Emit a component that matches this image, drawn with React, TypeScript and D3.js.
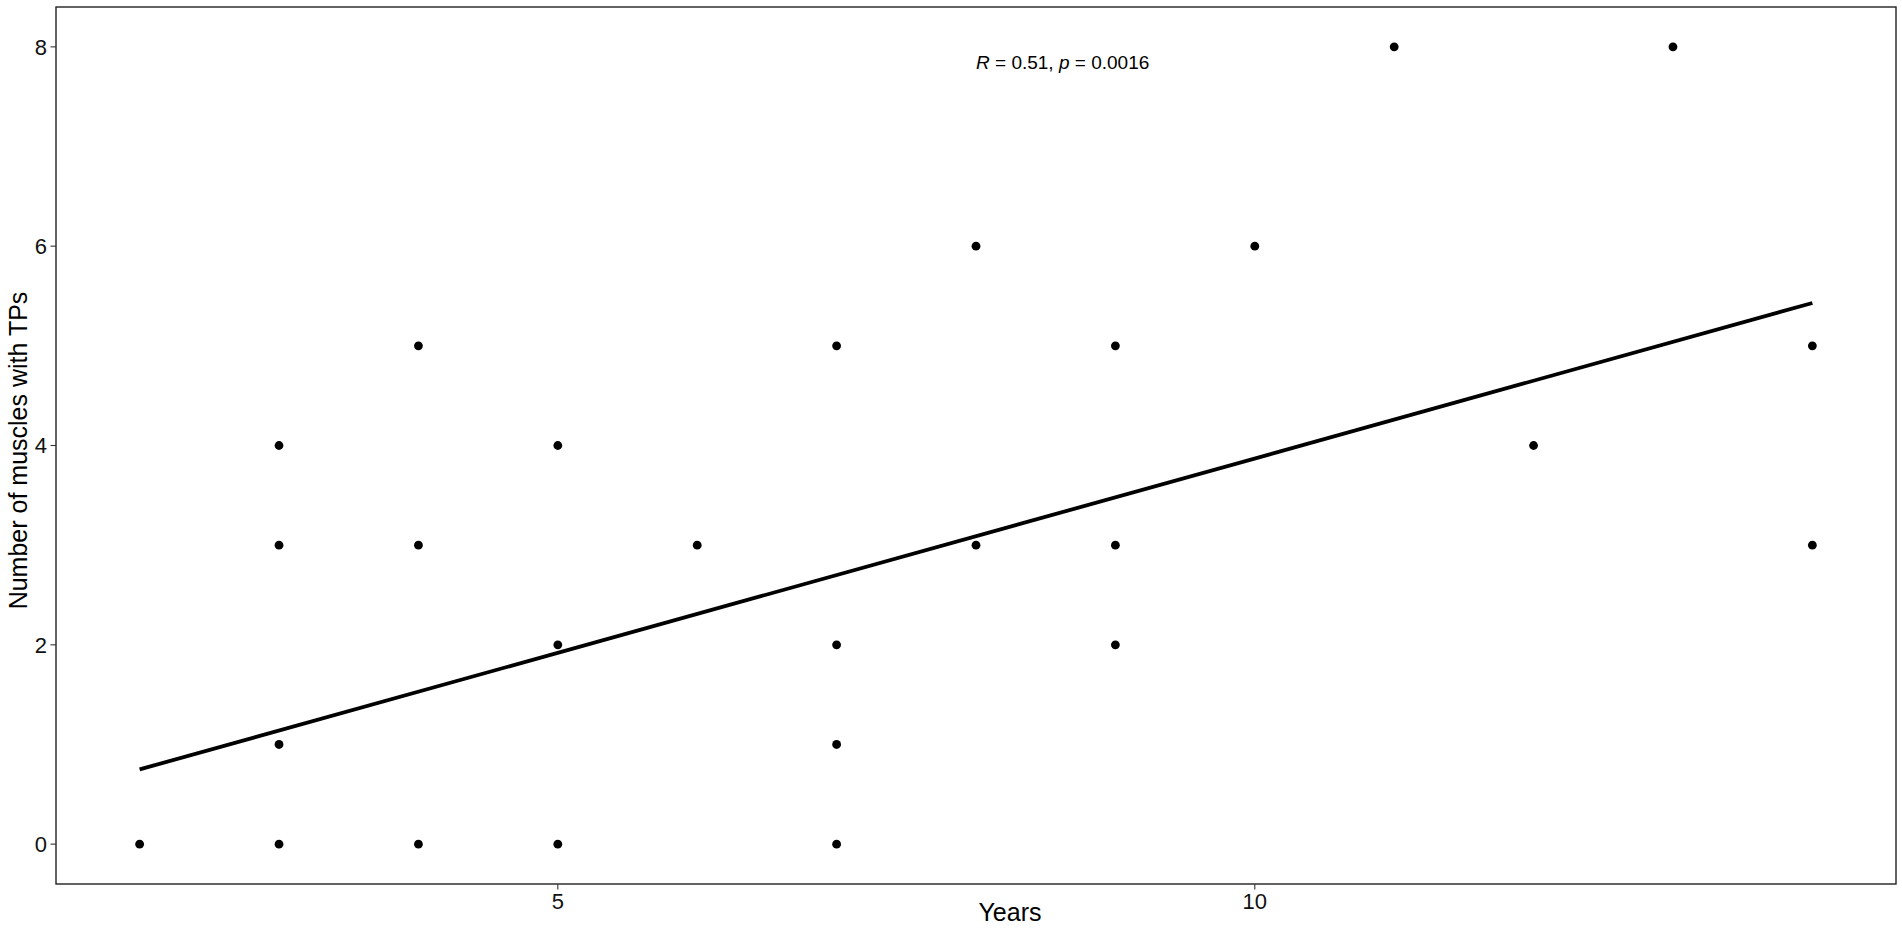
import React from "react";
import * as d3 from "d3";

const years: number[] = [2, 3, 3, 3, 3, 4, 4, 4, 5, 5, 5, 6, 7, 7, 7, 7, 8, 8, 9, 9, 9, 10, 11, 12, 13, 14, 14];
const muscles: number[] = [0, 4, 3, 1, 0, 5, 3, 0, 4, 2, 0, 3, 5, 2, 1, 0, 6, 3, 5, 3, 2, 6, 8, 4, 8, 5, 3];
const fitX: number[] = [2, 14];
const fitY: number[] = [0.75, 5.43];
const xTicks: number[] = [5, 10];
const yTicks: number[] = [0, 2, 4, 6, 8];
const annotation = { x: 8, y: 7.85, r: "0.51", p: "0.0016" };

const W = 1902;
const H = 929;
const left = 56;
const right = 1896;
const top = 7;
const bottom = 884;
const FONT = "'Liberation Sans', Arial, Helvetica, sans-serif";

export default function App() {
  const x = d3.scaleLinear().domain([1.4, 14.6]).range([left, right]);
  const y = d3.scaleLinear().domain([-0.4, 8.4]).range([bottom, top]);
  const line = d3
    .line<number>()
    .x((_, i) => x(fitX[i]))
    .y((d) => y(d));

  return (
    <svg
      width={W}
      height={H}
      style={{ position: "absolute", left: 0, top: 0, background: "#fff" }}
      fontFamily={FONT}
    >
      <rect x={0} y={0} width={W} height={H} fill="#fff" />
      {/* points */}
      {years.map((v, i) => (
        <circle key={i} cx={x(v)} cy={y(muscles[i])} r={4.4} fill="#000" />
      ))}
      {/* regression line */}
      <path d={line(fitY) || ""} fill="none" stroke="#000" strokeWidth={3.8} />
      {/* panel border */}
      <rect
        x={left}
        y={top}
        width={right - left}
        height={bottom - top}
        fill="none"
        stroke="#222"
        strokeWidth={1.4}
      />
      {/* y ticks */}
      {yTicks.map((t) => (
        <g key={"y" + t}>
          <line x1={left - 5.5} x2={left} y1={y(t)} y2={y(t)} stroke="#333" strokeWidth={1.1} />
          <text x={left - 9} y={y(t)} dy="0.36em" textAnchor="end" fontSize={22} fill="#111">
            {t}
          </text>
        </g>
      ))}
      {/* x ticks */}
      {xTicks.map((t) => (
        <g key={"x" + t}>
          <line x1={x(t)} x2={x(t)} y1={bottom} y2={bottom + 5.5} stroke="#333" strokeWidth={1.1} />
          <text x={x(t)} y={bottom + 25} textAnchor="middle" fontSize={22} fill="#111">
            {t}
          </text>
        </g>
      ))}
      {/* axis titles */}
      <text x={(left + right) / 2 + 34} y={921} textAnchor="middle" fontSize={25} fill="#000">
        Years
      </text>
      <text
        transform={`translate(27, ${(top + bottom) / 2 + 5}) rotate(-90)`}
        textAnchor="middle"
        fontSize={25}
        fill="#000"
      >
        Number of muscles with TPs
      </text>
      {/* annotation */}
      <text x={x(annotation.x)} y={y(annotation.y) + 7} fontSize={19} fill="#000" xmlSpace="preserve">
        <tspan fontStyle="italic">R</tspan>
        <tspan>{` = ${annotation.r}, `}</tspan>
        <tspan fontStyle="italic">p</tspan>
        <tspan>{` = ${annotation.p}`}</tspan>
      </text>
    </svg>
  );
}
